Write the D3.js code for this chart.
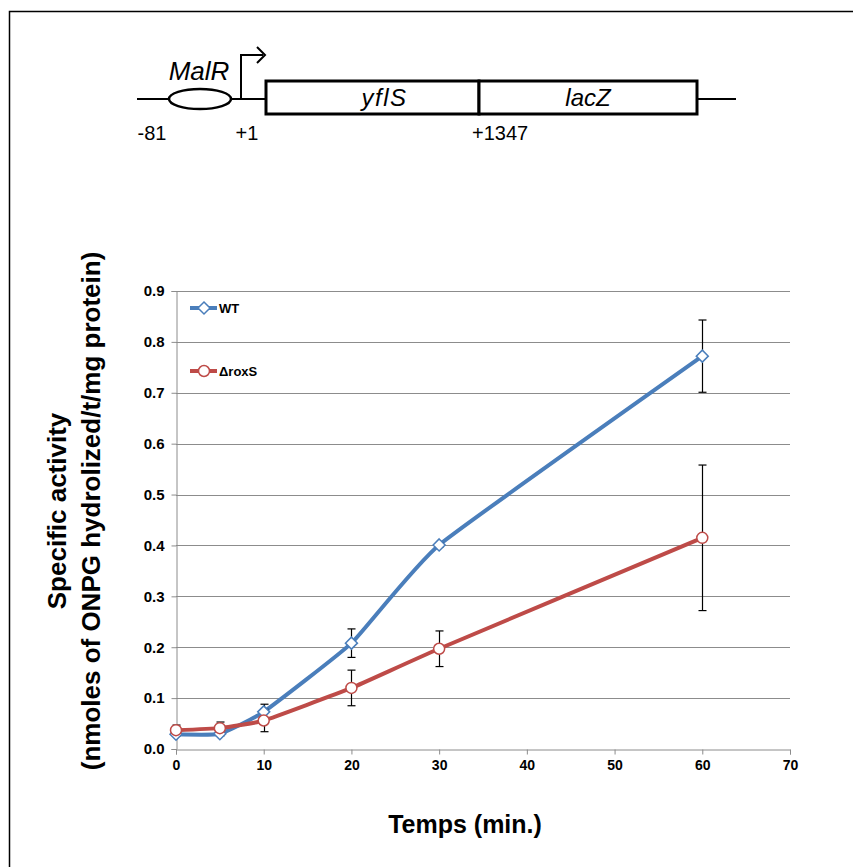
<!DOCTYPE html>
<html><head><meta charset="utf-8">
<script src="https://cdn.jsdelivr.net/npm/d3@7"></script>
<style>
body{margin:0;background:#fff;}
svg{display:block;font-family:"Liberation Sans",Arial,sans-serif;}
</style></head>
<body><svg id="c" width="853" height="867"></svg>
<script>
// ---- data ----
const times = [0, 5, 10, 20, 30, 60];
const wtValues = [0.029, 0.030, 0.073, 0.208, 0.401, 0.772];
const wtErrors = [0.003, 0.004, 0.015, 0.028, 0.004, 0.071];
const roxValues = [0.037, 0.041, 0.056, 0.120, 0.197, 0.415];
const roxErrors = [0.010, 0.012, 0.022, 0.035, 0.035, 0.143];
const seriesNames = ["WT", "\u0394roxS"];
const yTicks = [0, 0.1, 0.2, 0.3, 0.4, 0.5, 0.6, 0.7, 0.8, 0.9];
const xTicks = [0, 10, 20, 30, 40, 50, 60, 70];
const diagramLabels = ["-81", "+1", "+1347"];
const geneNames = ["yflS", "lacZ"];

const svg = d3.select("#c");
const blue = "#4a7ebb", red = "#be4b48", grid = "#8c8c8c";

// frame
svg.append("path").attr("d", "M9.5,870 L9.5,11.5 L860,11.5").attr("fill","none").attr("stroke","#000").attr("stroke-width",1.5);

// ---- gene diagram ----
const dg = svg.append("g");
dg.append("line").attr("x1",137).attr("x2",736).attr("y1",99).attr("y2",99).attr("stroke","#000").attr("stroke-width",2);
dg.append("ellipse").attr("cx",200).attr("cy",99).attr("rx",31).attr("ry",10).attr("fill","#fff").attr("stroke","#000").attr("stroke-width",2.5);
dg.append("path").attr("d","M241,99 L241,55 L263,55").attr("fill","none").attr("stroke","#000").attr("stroke-width",2);
dg.append("path").attr("d","M257,47 L265,55 L257,63").attr("fill","none").attr("stroke","#000").attr("stroke-width",2);
const boxes = [[266,479],[479,697]];
boxes.forEach((b,i)=>{
  dg.append("rect").attr("x",b[0]).attr("y",81).attr("width",b[1]-b[0]).attr("height",33)
    .attr("fill","#fff").attr("stroke","#000").attr("stroke-width",3);
  dg.append("text").attr("x",(b[0]+b[1])/2 + (i===0?12:0)).attr("y",106).attr("text-anchor","middle")
    .attr("font-style","italic").attr("font-size",24).attr("letter-spacing",i===0?1.5:0).text(geneNames[i]);
});
dg.append("text").attr("x",199).attr("y",80).attr("text-anchor","middle").attr("font-style","italic").attr("font-size",26).text("MalR");
[[152,"middle"],[247,"middle"],[472,"start"]].forEach((p,i)=>{
  dg.append("text").attr("x",p[0]).attr("y",140).attr("text-anchor",p[1]).attr("font-size",20).text(diagramLabels[i]);
});

// ---- chart ----
const x = d3.scaleLinear().domain([0,70]).range([176,790]);
const y = d3.scaleLinear().domain([0,0.9]).range([749,291]);

// gridlines
svg.append("g").selectAll("line").data(yTicks.slice(1)).join("line")
  .attr("x1",x(0)).attr("x2",x(70)).attr("y1",d=>Math.round(y(d))+0.5).attr("y2",d=>Math.round(y(d))+0.5)
  .attr("stroke",grid).attr("stroke-width",1);

// axes
const yAxis = svg.append("g").attr("transform",`translate(${x(0)+0.5},0)`)
  .call(d3.axisLeft(y).tickValues(yTicks).tickFormat(d3.format(".1f")).tickSize(5).tickPadding(7));
const xAxis = svg.append("g").attr("transform",`translate(0,${Math.round(y(0))+0.5})`)
  .call(d3.axisBottom(x).tickValues(xTicks).tickFormat(d3.format("d")).tickSize(5).tickPadding(6));
[yAxis,xAxis].forEach(a=>{
  a.selectAll("path.domain").attr("stroke",grid);
  a.selectAll(".tick line").attr("stroke",grid);
  a.selectAll("text").attr("fill","#000").attr("font-weight","bold").attr("font-family","'Liberation Sans',Arial,sans-serif");
});
yAxis.selectAll("text").attr("font-size",15);
xAxis.selectAll("text").attr("font-size",14).attr("font-family","'Liberation Sans Narrow','Liberation Sans',Arial,sans-serif");

// series
const series = [
  {name:seriesNames[0], vals:wtValues, errs:wtErrors, color:blue, shape:"diamond"},
  {name:seriesNames[1], vals:roxValues, errs:roxErrors, color:red, shape:"circle"}
];
const line = d3.line().x(d=>x(d[0])).y(d=>y(d[1])).curve(d3.curveCardinal.tension(0.6));
series.forEach(s=>{
  svg.append("path").datum(times.map((t,i)=>[t,s.vals[i]])).attr("d",line)
    .attr("fill","none").attr("stroke",s.color).attr("stroke-width",4).attr("stroke-linejoin","round");
});
function marker(g, s, cx, cy){
  if(s.shape==="diamond"){
    g.append("path").attr("d",`M${cx},${cy-6} L${cx+6},${cy} L${cx},${cy+6} L${cx-6},${cy} Z`)
      .attr("fill","#fff").attr("stroke",s.color).attr("stroke-width",1.5);
  } else {
    g.append("circle").attr("cx",cx).attr("cy",cy).attr("r",5.5).attr("fill","#fff").attr("stroke",s.color).attr("stroke-width",1.5);
  }
}
// error bars
series.forEach(s=>{
  const g = svg.append("g").attr("stroke","#000").attr("stroke-width",1.2);
  times.forEach((t,i)=>{
    const cx = Math.round(x(t))+0.5, y1=y(s.vals[i]+s.errs[i]), y2=y(s.vals[i]-s.errs[i]);
    g.append("line").attr("x1",cx).attr("x2",cx).attr("y1",y1).attr("y2",y2);
    g.append("line").attr("x1",cx-4).attr("x2",cx+4).attr("y1",y1).attr("y2",y1);
    g.append("line").attr("x1",cx-4).attr("x2",cx+4).attr("y1",y2).attr("y2",y2);
  });
});
series.forEach(s=>{
  const g = svg.append("g");
  times.forEach((t,i)=>marker(g,s,x(t),y(s.vals[i])));
});

// legend
series.forEach((s,i)=>{
  const ly = 308 + i*63;
  svg.append("line").attr("x1",190).attr("x2",217).attr("y1",ly).attr("y2",ly).attr("stroke",s.color).attr("stroke-width",4);
  marker(svg, s, 204, ly);
  svg.append("text").attr("x",219).attr("y",ly+4.5).attr("font-size",13).attr("font-weight","bold").text(s.name);
});

// axis titles
svg.append("text").attr("x",465).attr("y",833).attr("text-anchor","middle").attr("font-size",25).attr("font-weight","bold").text("Temps (min.)");
const yt = svg.append("text").attr("transform","translate(0,511) rotate(-90)").attr("text-anchor","middle").attr("font-size",26).attr("font-weight","bold");
yt.append("tspan").attr("x",0).attr("y",66).text("Specific activity");
yt.append("tspan").attr("x",0).attr("y",100).text("(nmoles of ONPG hydrolized/t/mg protein)");
</script></body></html>
